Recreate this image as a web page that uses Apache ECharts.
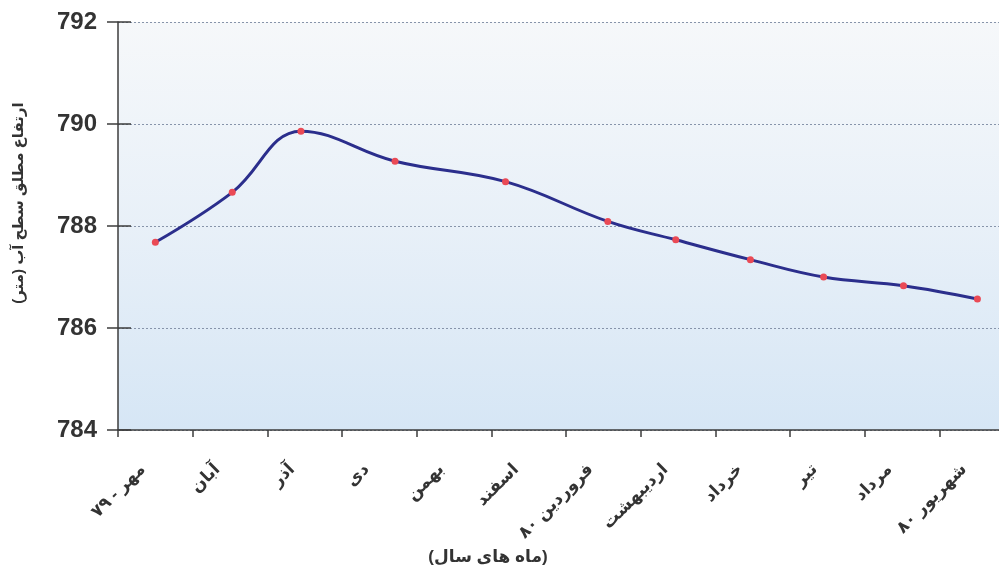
<!DOCTYPE html>
<html>
<head>
<meta charset="utf-8">
<script src="https://cdn.jsdelivr.net/npm/echarts@6/dist/echarts.min.js"></script>
<style>
  html, body { margin: 0; padding: 0; background: #ffffff; }
  #chart { width: 999px; height: 571px; }
</style>
</head>
<body>
<div id="chart"></div>
<script>
// Month categories (x-axis tick labels)
const months = ['مهر - ۷۹', 'آبان', 'آذر', 'دی', 'بهمن', 'اسفند', 'فروردین ۸۰', 'اردیبهشت', 'خرداد', 'تیر', 'مرداد', 'شهریور ۸۰'];
// Measurement time positions (in months from start of مهر ۷۹)
const pointPos = [0.50, 1.53, 2.45, 3.71, 5.19, 6.56, 7.47, 8.47, 9.45, 10.52, 11.51];
// Water level (m)
const levels = [787.68, 788.66, 789.86, 789.27, 788.87, 788.09, 787.73, 787.34, 787.00, 786.83, 786.57];
// Y-axis ticks
const yMin = 784, yMax = 792, yStep = 2;

const yName = '\u200Fارتفاع مطلق سطح آب (متر)\u200F';
const xName = '\u200F(ماه های سال)\u200F';

const font = "'Liberation Sans', 'DejaVu Sans', sans-serif";
const textColor = '#333333';
const axisColor = '#3d3d3d';

const chart = echarts.init(document.getElementById('chart'), null, { renderer: 'canvas' });
chart.setOption({
  animation: false,
  backgroundColor: '#ffffff',
  grid: {
    left: 118, width: 896, top: 22, height: 408,
    outerBoundsMode: 'none',
    containLabel: false,
    show: true,
    borderWidth: 0,
    backgroundColor: {
      type: 'linear', x: 0, y: 0, x2: 0, y2: 1,
      colorStops: [
        { offset: 0, color: '#f6f8fa' },
        { offset: 0.5, color: '#e8f0f8' },
        { offset: 1, color: '#d6e6f5' }
      ]
    }
  },
  xAxis: [
    {
      type: 'category',
      data: months,
      boundaryGap: true,
      position: 'bottom',
      axisLine: { show: true, lineStyle: { color: axisColor, width: 1.5 } },
      axisTick: { show: true, length: 7, lineStyle: { color: axisColor, width: 1.5 } },
      axisLabel: {
        interval: 0,
        rotate: 45,
        margin: 24,
        fontFamily: font,
        fontSize: 17,
        fontWeight: 'bold',
        color: textColor,
        padding: [0, 18, 34, 0]
      },
      splitLine: { show: false },
      name: xName,
      nameLocation: 'middle',
      nameGap: 118,
      nameTextStyle: {
        fontFamily: font, fontSize: 17, fontWeight: 'bold', color: textColor,
        padding: [0, 156, 0, 0]
      }
    },
    {
      type: 'value',
      min: 0,
      max: 12,
      show: false,
      position: 'bottom'
    }
  ],
  yAxis: [
    {
      type: 'value',
      min: yMin, max: yMax, interval: yStep,
      axisLine: { show: true, lineStyle: { color: axisColor, width: 1.5 } },
      axisTick: { show: true, length: 11, lineStyle: { color: axisColor, width: 1.5 } },
      axisLabel: {
        margin: 21,
        fontFamily: font, fontSize: 24, fontWeight: 'bold', color: textColor
      },
      splitLine: {
        show: true,
        lineStyle: { color: '#8794aa', width: 1, type: [2, 2] }
      },
      name: yName,
      nameLocation: 'middle',
      nameRotate: 90,
      nameGap: 92,
      nameTextStyle: {
        fontFamily: font, fontSize: 15, fontWeight: 'bold', color: textColor,
        padding: [0, 0, 0, 46]
      }
    },
    {
      type: 'value',
      min: yMin, max: yMax, interval: yStep,
      position: 'left',
      axisLine: { show: false },
      axisTick: { show: true, inside: true, length: 13, lineStyle: { color: axisColor, width: 1.5 } },
      axisLabel: { show: false },
      splitLine: { show: false }
    }
  ],
  series: [
    {
      type: 'line',
      xAxisIndex: 1,
      yAxisIndex: 0,
      data: pointPos.map((p, i) => [p, levels[i]]),
      smooth: 0.4,
      symbol: 'circle',
      symbolSize: 7,
      showSymbol: true,
      lineStyle: { color: '#2b2e8c', width: 3 },
      itemStyle: { color: '#ea4a55', borderWidth: 0 },
      z: 5
    }
  ]
});
</script>
</body>
</html>
